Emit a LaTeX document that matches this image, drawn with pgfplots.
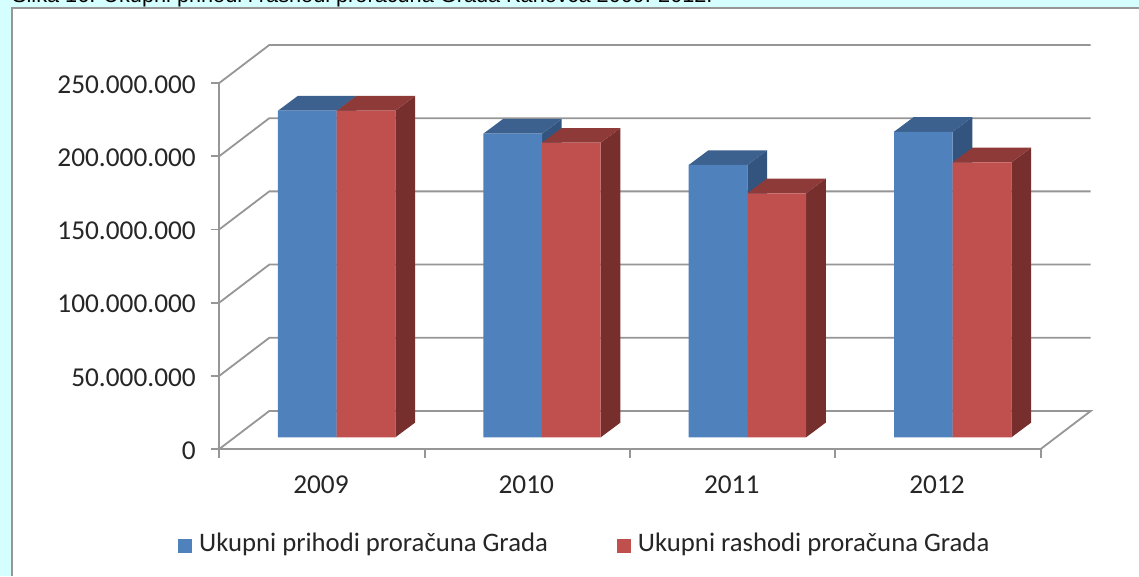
\documentclass[border=0pt]{standalone}
\usepackage{pgfplots}
\pgfplotsset{compat=1.18}
\usepackage{fontspec}
\setmainfont{Carlito}
\newfontfamily\capfont{Liberation Sans}
\definecolor{pagebg}{HTML}{D5FFFF}
\definecolor{gridgray}{HTML}{969696}
\definecolor{txt}{HTML}{262626}
\definecolor{bluefront}{HTML}{4F81BD}
\definecolor{bluetop}{HTML}{3C618F}
\definecolor{blueside}{HTML}{33547E}
\definecolor{redfront}{HTML}{C0504D}
\definecolor{redtop}{HTML}{8E3A38}
\definecolor{redside}{HTML}{772F2D}

% top and side faces of a bar: left edge (data x), value in millions, colours
\newcommand{\barfaces}[4]{%
  \pgfmathsetmacro{\xa}{#1+0.2858}%
  \pgfmathsetmacro{\xb}{#1+0.2858+0.0959}%
  \pgfmathsetmacro{\xc}{#1+0.0959}%
  \pgfmathsetmacro{\vt}{#2+10.04}%
  \addplot[forget plot,draw=none,fill=#4,yshift=11.7pt] coordinates {(\xa,0) (\xb,10.04e6) (\xb,\vt e6) (\xa,#2e6)} -- cycle;
  \addplot[forget plot,draw=none,fill=#3,yshift=11.7pt] coordinates {(#1,#2e6) (\xa,#2e6) (\xb,\vt e6) (\xc,\vt e6)} -- cycle;
}

\begin{document}
\begin{tikzpicture}
\path[use as bounding box,clip] (0,0) rectangle (1139pt,576pt);
\fill[pagebg] (0,0) rectangle (1139pt,576pt);
\fill[white] (11.5pt,0) rectangle (1139pt,568pt);
\draw[gridgray,line width=2pt] (11.5pt,0) -- (11.5pt,568pt) -- (1139pt,568pt);
\node[anchor=base west,inner sep=0pt,text=black,font=\capfont\fontsize{21.7}{24}\selectfont] at (12pt,573pt)
  {Slika 16: Ukupni prihodi i rashodi proračuna Grada Karlovca 2009.-2012.};
\begin{axis}[
  at={(219.3pt,127pt)},
  anchor=south west,
  scale only axis,
  width=821.4pt,
  height=366pt,
  clip=false,
  xmin=-0.5,xmax=3.5,
  ymin=0,ymax=250000000,
  axis lines=left,
  axis line style={gridgray,line width=1.8pt,-},
  tick style={gridgray,line width=1.8pt},
  tick align=outside,
  major tick length=0pt,
  minor tick length=8.5pt,
  xtick={0,1,2,3},
  xticklabels={2009,2010,2011,2012},
  minor xtick={-0.5,0.5,1.5,2.5,3.5},
  ytick={0,50000000,100000000,150000000,200000000,250000000},
  minor ytick={0,50000000,100000000,150000000,200000000,250000000},
  scaled y ticks=false,
  /pgf/number format/.cd,fixed,precision=0,1000 sep={.},assume math mode=true,
  /pgfplots/.cd,
  tick label style={font=\fontsize{27.3}{30}\selectfont,text=txt},
  yticklabel style={xshift=-20pt,yshift=-1.5pt},
  xticklabel style={xshift=-1pt,yshift=-23pt},
  legend columns=2,
  legend style={at={(0.4449,-0.258)},anchor=center,draw=none,fill=none,
    font=\fontsize{26.7}{30}\selectfont,text=txt,
    /tikz/every even column/.append style={column sep=67pt}},
]
% back wall and floor
\pgfplotsinvokeforeach{50,100,150,200,250}{
  \pgfmathsetmacro{\vb}{#1+25.96}
  \addplot[forget plot,gridgray,line width=1.8pt] coordinates {(-0.5,#1e6) (-0.2566,\vb e6) (3.7434,\vb e6)};
}
\addplot[forget plot,gridgray,line width=1.8pt] coordinates {(-0.5,0) (-0.2566,25.96e6) (3.7434,25.96e6) (3.5,0)};

% blue series
\barfaces{-0.2142}{223.1}{bluetop}{blueside}
\barfaces{0.7858}{207.4}{bluetop}{blueside}
\barfaces{1.7858}{186.0}{bluetop}{blueside}
\barfaces{2.7858}{208.7}{bluetop}{blueside}
\addplot[ybar,bar width=58.7pt,bar shift=-14.65pt,yshift=11.7pt,draw=none,fill=bluefront,
  legend image code/.code={\fill[bluefront] (0pt,-21pt) rectangle (14pt,-7pt); \path (19pt,-21pt);}]
  coordinates {(0,223100000) (1,207400000) (2,186000000) (3,208700000)};
\addlegendentry{Ukupni prihodi proračuna Grada}

% red series
\barfaces{0.0716}{223.1}{redtop}{redside}
\barfaces{1.0716}{201.2}{redtop}{redside}
\barfaces{2.0716}{166.7}{redtop}{redside}
\barfaces{3.0716}{187.8}{redtop}{redside}
\addplot[ybar,bar width=58.7pt,bar shift=44.05pt,yshift=11.7pt,draw=none,fill=redfront,
  legend image code/.code={\fill[redfront] (0pt,-21pt) rectangle (14pt,-7pt); \path (19pt,-21pt);}]
  coordinates {(0,223100000) (1,201200000) (2,166700000) (3,187800000)};
\addlegendentry{Ukupni rashodi proračuna Grada}
\end{axis}
\end{tikzpicture}
\end{document}
